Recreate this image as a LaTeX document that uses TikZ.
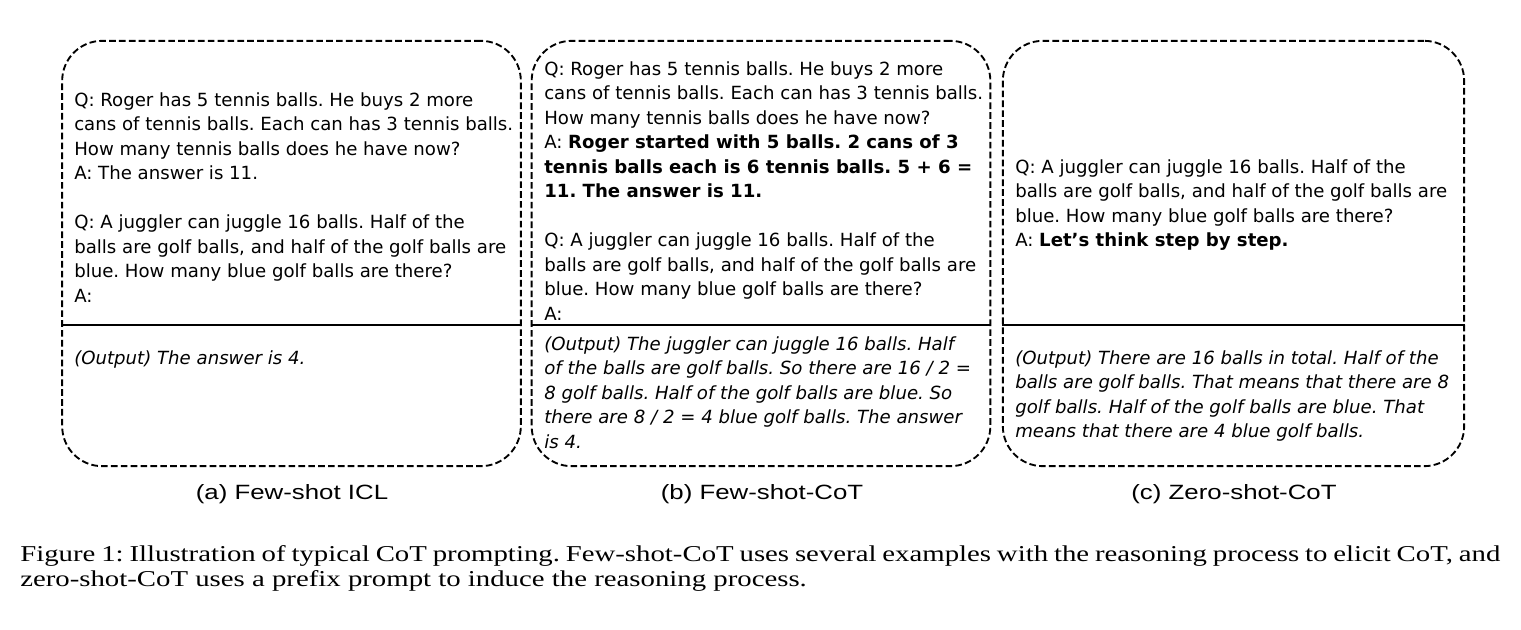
\documentclass[tikz,border=0pt]{standalone}
\usepackage{fontspec}
\newfontfamily\boxfont{DejaVu Sans}
\newfontfamily\subfont[FakeStretch=1.25]{Liberation Sans}
\newfontfamily\figfont[FakeStretch=1.27]{Liberation Serif}
\usetikzlibrary{positioning, calc}
\frenchspacing

\begin{document}
\begin{tikzpicture}[
  x=0.75pt, y=-0.75pt,
  panel/.style={
    draw, line width=1.4pt, dash pattern=on 5pt off 2.4pt,
    rounded corners=30pt, minimum width=344pt, minimum height=319pt,
    inner sep=0pt
  },
  txt/.style={anchor=north west, align=left, inner sep=0pt,
    font=\boxfont\fontsize{13.6pt}{18.4pt}\selectfont},
  salida/.style={txt, font=\boxfont\itshape\fontsize{13.6pt}{18.4pt}\selectfont},
  corte/.style={line width=0.9pt},
  sub/.style={anchor=base, inner sep=0pt,
    font=\subfont\fontsize{15.5pt}{18pt}\selectfont},
  pie/.style={anchor=base west, inner sep=0pt,
    font=\figfont\fontsize{17pt}{18.75pt}\selectfont}
]
\useasboundingbox (0,0) rectangle (1521,629);

%% ---------------------------------------------------------
%% Paneles: izq=291.5  centro=761  der=1233.5
%% ---------------------------------------------------------
\node[panel] (P1) at (291.5, 253.5) {};
\node[panel] (P2) at (761,   253.5) {};
\node[panel, minimum width=346pt] (P3) at (1233.5, 253.5) {};

%% linea entre prompt y salida
\coordinate (cut) at (0, 325);
\draw[corte] (P1.west |- cut) -- (P1.east |- cut);
\draw[corte] (P2.west |- cut) -- (P2.east |- cut);
\draw[corte] (P3.west |- cut) -- (P3.east |- cut);

%% PANEL a -- Few-shot ICL
\node[txt] (Q1) at (74, 92) {Q: Roger has 5 tennis balls. He buys 2 more\\
cans of tennis balls. Each can has 3 tennis balls.\\
How many tennis balls does he have now?\\
A: The answer is 11.\\[18.4pt]
Q: A juggler can juggle 16 balls. Half of the\\
balls are golf balls, and half of the golf balls are\\
blue. How many blue golf balls are there?\\
A:};
\node[salida] (O1) at (74, 350) {(Output) The answer is 4.};

%% PANEL b -- Few-shot-CoT
\node[txt] (Q2) at (544, 61) {Q: Roger has 5 tennis balls. He buys 2 more\\
cans of tennis balls. Each can has 3 tennis balls.\\
How many tennis balls does he have now?\\
A: \textbf{Roger started with 5 balls. 2 cans of 3}\\
\textbf{tennis balls each is 6 tennis balls. 5 + 6 =}\\
\textbf{11. The answer is 11.}\\[18.4pt]
Q: A juggler can juggle 16 balls. Half of the\\
balls are golf balls, and half of the golf balls are\\
blue. How many blue golf balls are there?\\
A:};
\node[salida] (O2) at (544, 336) {(Output) The juggler can juggle 16 balls. Half\\
of the balls are golf balls. So there are 16 / 2 =\\
8 golf balls. Half of the golf balls are blue. So\\
there are 8 / 2 = 4 blue golf balls. The answer\\
is 4.};

%% PANEL c -- Zero-shot-CoT
\node[txt] (Q3) at (1015, 159) {Q: A juggler can juggle 16 balls. Half of the\\
balls are golf balls, and half of the golf balls are\\
blue. How many blue golf balls are there?\\
A: \textbf{Let’s think step by step.}};
\node[salida] (O3) at (1015, 350) {(Output) There are 16 balls in total. Half of the\\
balls are golf balls. That means that there are 8\\
golf balls. Half of the golf balls are blue. That\\
means that there are 4 blue golf balls.};

%% subtitulos
\node[sub] (S1) at (292,  499) {(a) Few-shot ICL};
\node[sub] (S2) at (762,  499) {(b) Few-shot-CoT};
\node[sub] (S3) at (1234, 499) {(c) Zero-shot-CoT};

%% pie de figura
\node[pie] (F1) at (20, 561) {\makebox[1110pt][s]{Figure 1: Illustration of typical CoT prompting. Few-shot-CoT uses several examples with the reasoning process to elicit CoT, and}};
\node[pie] (F2) at (20, 586) {zero-shot-CoT uses a prefix prompt to induce the reasoning process.};

\end{tikzpicture}
\end{document}
